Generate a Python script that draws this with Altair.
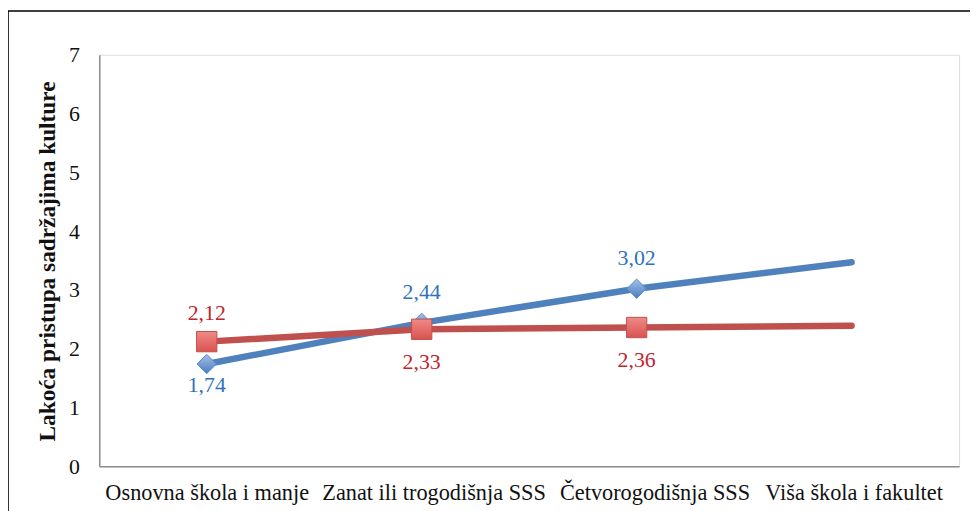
import altair as alt
import pandas as pd

categories = ["Osnovna škola i manje", "Zanat ili trogodišnja SSS",
              "Četvorogodišnja SSS", "Viša škola i fakultet"]
blue_values = [1.74, 2.44, 3.02, 3.47]
red_values = [2.12, 2.33, 2.36, 2.39]
marked_points = 3  # markers / labels on the first three categories only

rows = []
for name, vals in (("blue", blue_values), ("red", red_values)):
    for i, (c, v) in enumerate(zip(categories, vals)):
        rows.append({"cat": c, "idx": i, "series": name, "value": v,
                     "label": f"{v:.2f}".replace(".", ",")})
df = pd.DataFrame(rows)

BLUE_LINE = "#4F81BD"
RED_LINE = "#C0504D"
BLUE_TEXT = "#2F72BC"
RED_TEXT = "#C0252E"
FONT = "Liberation Serif"

x_label_shift = {
    "condition": [
        {"test": f"datum.value == '{categories[1]}'", "value": 12},
        {"test": f"datum.value == '{categories[2]}'", "value": 18},
        {"test": f"datum.value == '{categories[3]}'", "value": 2},
    ],
    "value": 0,
}

x_enc = alt.X("cat:N", sort=categories,
              scale=alt.Scale(type="point", padding=0.5),
              axis=alt.Axis(title=None, ticks=False, domainColor="#8c8c8c", domainWidth=1.5,
                            labelFont=FONT, labelFontSize=22.5, labelColor="#111111",
                            labelPadding=16, labelAngle=0, labelOverlap=False, labelLimit=400,
                            labelOffset=x_label_shift, grid=False))
y_enc = alt.Y("value:Q",
              scale=alt.Scale(domain=[0, 7], nice=False),
              axis=alt.Axis(title="Lakoća pristupa sadržajima kulture", values=list(range(8)),
                            ticks=False, grid=False, domainColor="#8c8c8c", domainWidth=1.5,
                            labelFont=FONT, labelFontSize=22, labelColor="#111111",
                            labelPadding=20,
                            titleFont=FONT, titleFontSize=23.5, titleFontWeight="bold",
                            titleColor="#111111", titleAngle=-90, titleX=-52, titleY=208,
                            titleAlign="center", titleBaseline="middle"))

base = alt.Chart(df).encode(x=x_enc, y=y_enc)

frame = alt.Chart(alt.Data(values=[{"a": 1}])).mark_rect(
    fill=None, stroke="#000000", strokeWidth=1.6
).encode(x=alt.value(-92), x2=alt.value(3000), y=alt.value(-44), y2=alt.value(3000))

blue_line = base.transform_filter("datum.series == 'blue'").mark_line(
    color=BLUE_LINE, strokeWidth=6.5, strokeCap="round")
red_line = base.transform_filter("datum.series == 'red'").mark_line(
    color=RED_LINE, strokeWidth=6.5, strokeCap="round")

blue_pts = base.transform_filter(f"datum.series == 'blue' && datum.idx < {marked_points}").mark_point(
    shape="diamond", size=380, filled=True, opacity=1,
    fill={"gradient": "linear", "x1": 0, "y1": 0, "x2": 0, "y2": 1,
          "stops": [{"offset": 0, "color": "#A3C0E6"}, {"offset": 1, "color": "#4A7CC0"}]},
    stroke="#5A88C6", strokeWidth=1)
red_pts = base.transform_filter(f"datum.series == 'red' && datum.idx < {marked_points}").mark_point(
    shape="square", size=420, filled=True, opacity=1,
    fill={"gradient": "linear", "x1": 0, "y1": 0, "x2": 0, "y2": 1,
          "stops": [{"offset": 0, "color": "#EE8A87"}, {"offset": 1, "color": "#D9534F"}]},
    stroke="#C0504D", strokeWidth=1)

def labels(cond, color, dy):
    return base.transform_filter(cond).mark_text(
        font=FONT, fontSize=22, color=color, dy=dy, baseline="middle"
    ).encode(text="label:N")

lbl_b_up = labels("datum.series == 'blue' && (datum.idx == 1 || datum.idx == 2)", BLUE_TEXT, -31)
lbl_b_dn = labels("datum.series == 'blue' && datum.idx == 0", BLUE_TEXT, 21)
lbl_r_up = labels("datum.series == 'red' && datum.idx == 0", RED_TEXT, -29)
lbl_r_dn = labels("datum.series == 'red' && (datum.idx == 1 || datum.idx == 2)", RED_TEXT, 33)

chart = alt.layer(
    frame, blue_line, red_line, blue_pts, red_pts,
    lbl_b_up, lbl_b_dn, lbl_r_up, lbl_r_dn
).properties(
    width=867, height=415,
    autosize=alt.AutoSizeParams(type="none"),
    padding={"left": 92, "top": 45, "right": 11, "bottom": 43},
).configure_view(stroke=None).configure(background="white")

chart.save("out.html", embed_options={"renderer": "svg", "actions": False})
